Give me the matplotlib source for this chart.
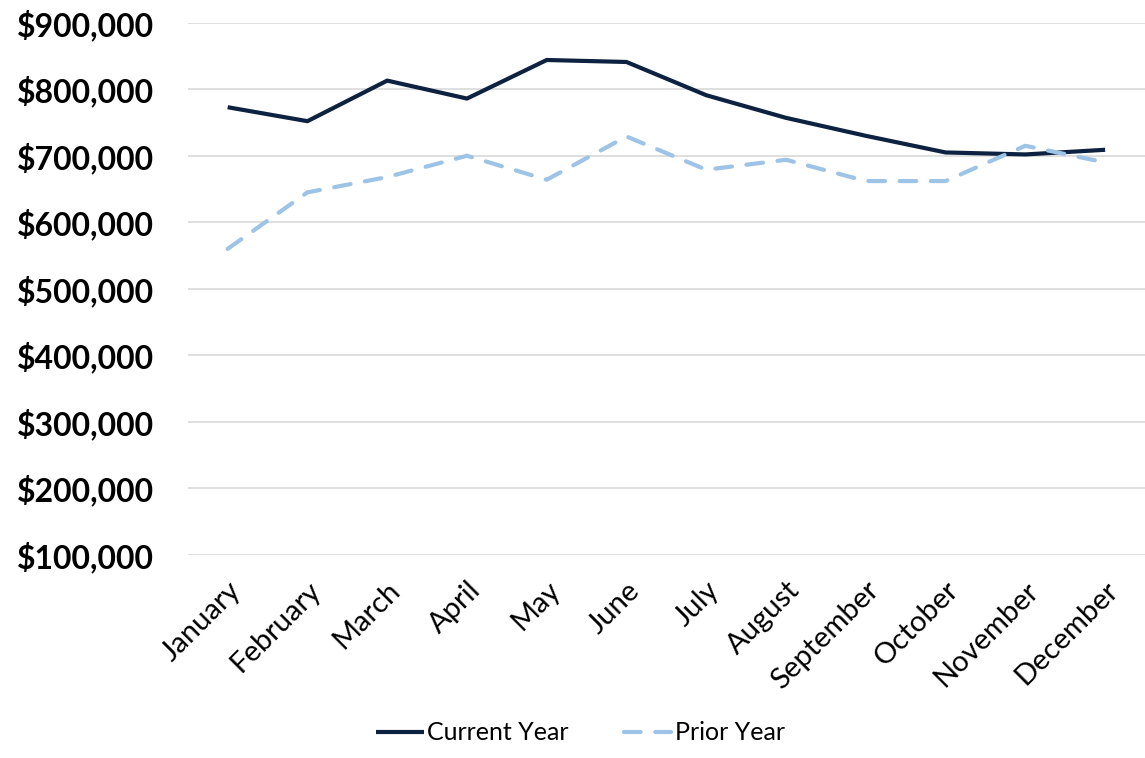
import matplotlib
matplotlib.use("Agg")
import matplotlib.pyplot as plt
from matplotlib.ticker import FuncFormatter

# data
months = ["January", "February", "March", "April", "May", "June",
          "July", "August", "September", "October", "November", "December"]
current_year = [773000, 752000, 813000, 786000, 844000, 841000,
                791000, 757000, 730000, 705000, 702000, 709000]
prior_year = [560000, 645000, 668000, 700000, 664000, 729000,
              679000, 694000, 662000, 662000, 715000, 690000]
y_ticks = [100000, 200000, 300000, 400000, 500000, 600000, 700000, 800000, 900000]

plt.rcParams['font.family'] = ['Lato', 'DejaVu Sans']

fig = plt.figure(figsize=(11.45, 7.58), dpi=100)
ax = fig.add_axes([0.164, 0.268, 0.836, 0.702])

x = list(range(len(months)))
ax.plot(x, current_year, color="#0d2240", linewidth=3, label="Current Year",
        solid_capstyle="butt")
ax.plot(x, prior_year, color="#9dc3e6", linewidth=3, label="Prior Year",
        linestyle=(0, (4, 3.5)), dash_capstyle="round")

ax.set_xlim(-0.5, len(months) - 0.5)
ax.set_ylim(100000, 900000)
ax.set_yticks(y_ticks)
ax.yaxis.set_major_formatter(FuncFormatter(lambda v, p: f"${v:,.0f}"))
ax.set_xticks(x)
ax.set_xticklabels(months, rotation=45, ha="right", rotation_mode="anchor",
                   fontsize=21)
for lab in ax.get_yticklabels():
    lab.set_fontsize(23)
    lab.set_fontweight("bold")

ax.grid(axis="y", color="#d9d9d9", linewidth=1.2)
ax.set_axisbelow(True)
for s in ax.spines.values():
    s.set_visible(False)
ax.tick_params(axis="both", length=0)
ax.tick_params(axis="y", pad=24)
ax.tick_params(axis="x", pad=16)

fig.legend(loc="center", bbox_to_anchor=(0.507, 0.033), ncol=2, frameon=False,
           fontsize=18, handlelength=1.9, handletextpad=0.15, columnspacing=2.2)

fig.savefig("out.png", dpi=100)
